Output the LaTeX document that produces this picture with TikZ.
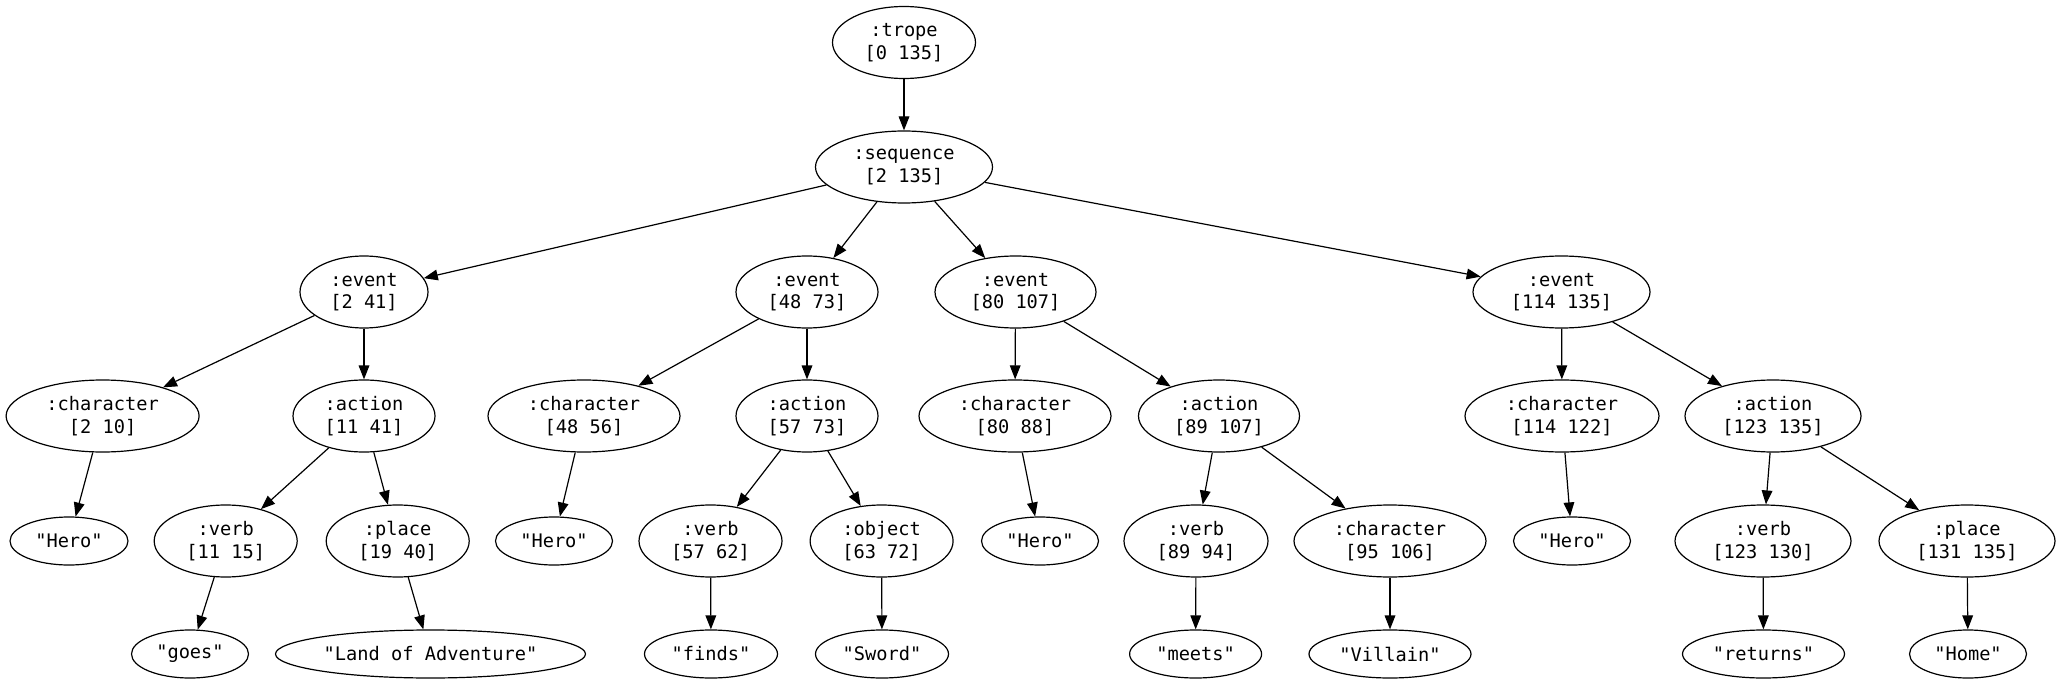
\documentclass[tikz,border=0pt]{standalone}
\usepackage{fontspec}
\setmonofont{DejaVu Sans Mono}
\usetikzlibrary{arrows.meta,shapes.geometric}
\begin{document}
\begin{tikzpicture}[x=0.75pt,y=-0.75pt,
  gv/.style={draw, ellipse, inner sep=0pt, line width=0.9pt, align=center,
    font=\fontsize{14}{16.8}\selectfont\ttfamily, minimum height=72*0.75pt},
  leaf/.style={gv, minimum height=48*0.75pt},
  gw/.style={minimum width=#1*0.75pt},
  gvedge/.style={-{Triangle[length=10.5pt,width=8pt]}, line width=0.9pt}
]
\useasboundingbox (0,0) rectangle (2063,684);

% level 0-1
\node[gv,gw=143] (trope) at (904,42.5) {:trope\\{}[0 135]};
\node[gv,gw=177] (seq) at (904,167) {:sequence\\{}[2 135]};

% level 2
\node[gv,gw=128] (e1) at (364,292) {:event\\{}[2 41]};
\node[gv,gw=142] (e2) at (807,292) {:event\\{}[48 73]};
\node[gv,gw=161] (e3) at (1015.5,292) {:event\\{}[80 107]};
\node[gv,gw=177] (e4) at (1561.5,292) {:event\\{}[114 135]};

% level 3
\node[gv,gw=193] (c1) at (102.6,416) {:character\\{}[2 10]};
\node[gv,gw=142] (a1) at (364,416) {:action\\{}[11 41]};
\node[gv,gw=192] (c2) at (584,416) {:character\\{}[48 56]};
\node[gv,gw=142] (a2) at (807,416) {:action\\{}[57 73]};
\node[gv,gw=192] (c3) at (1015,416) {:character\\{}[80 88]};
\node[gv,gw=161] (a3) at (1219,416) {:action\\{}[89 107]};
\node[gv,gw=194] (c4) at (1562,416) {:character\\{}[114 122]};
\node[gv,gw=176] (a4) at (1773,416) {:action\\{}[123 135]};

% level 4
\node[leaf,gw=118] (h1) at (69,541) {"Hero"};
\node[gv,gw=143] (v1) at (225.7,541) {:verb\\{}[11 15]};
\node[gv,gw=143] (p1) at (397.7,541) {:place\\{}[19 40]};
\node[leaf,gw=117] (h2) at (554,541) {"Hero"};
\node[gv,gw=143] (v2) at (710.5,541) {:verb\\{}[57 62]};
\node[gv,gw=143] (o2) at (881.6,541) {:object\\{}[63 72]};
\node[leaf,gw=117] (h3) at (1040,541) {"Hero"};
\node[gv,gw=144] (v3) at (1196,541) {:verb\\{}[89 94]};
\node[gv,gw=192] (c5) at (1390,541) {:character\\{}[95 106]};
\node[leaf,gw=117] (h4) at (1572,541) {"Hero"};
\node[gv,gw=176] (v4) at (1763,541) {:verb\\{}[123 130]};
\node[gv,gw=176] (p4) at (1967,541) {:place\\{}[131 135]};

% level 5
\node[leaf,gw=117] (goes) at (190,654) {"goes"};
\node[leaf,gw=310] (land) at (430.5,654) {"Land of Adventure"};
\node[leaf,gw=133] (finds) at (711,654) {"finds"};
\node[leaf,gw=133] (sword) at (882,654) {"Sword"};
\node[leaf,gw=132] (meets) at (1195.6,654) {"meets"};
\node[leaf,gw=162] (villain) at (1390,654) {"Villain"};
\node[leaf,gw=162] (returns) at (1763.5,654) {"returns"};
\node[leaf,gw=117] (home) at (1968,654) {"Home"};

% edges
\foreach \a/\b in {trope/seq, seq/e1, seq/e2, seq/e3, seq/e4,
  e1/c1, e1/a1, e2/c2, e2/a2, e3/c3, e3/a3, e4/c4, e4/a4,
  c1/h1, a1/v1, a1/p1, c2/h2, a2/v2, a2/o2, c3/h3, a3/v3, a3/c5, c4/h4, a4/v4, a4/p4,
  v1/goes, p1/land, v2/finds, o2/sword, v3/meets, c5/villain, v4/returns, p4/home}
  \draw[gvedge] (\a) -- (\b);
\end{tikzpicture}
\end{document}
